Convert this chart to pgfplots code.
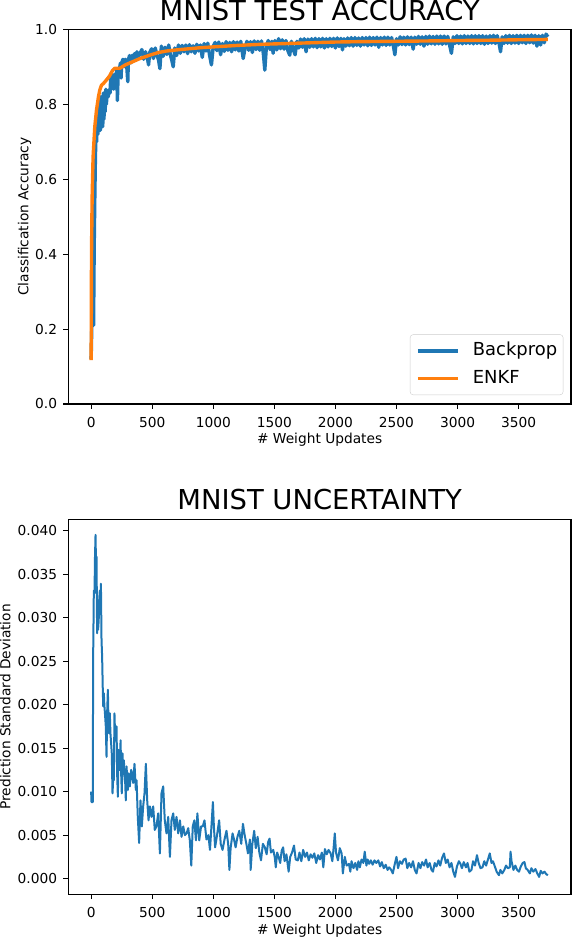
\documentclass[border=0pt]{standalone}
\usepackage{fontspec}
\setmainfont{DejaVu Sans}
\usepackage{pgfplots}
\pgfplotsset{compat=1.18}
\definecolor{tabblue}{HTML}{1F77B4}
\definecolor{taborange}{HTML}{FF7F0E}
\pgfplotsset{
  mplstyle/.style={
    scale only axis,
    width=502.7bp,
    xmin=-187, xmax=3929,
    axis line style={line width=1.1bp},
    every tick/.style={line width=1.1bp, black},
    tick align=outside,
    tick pos=left,
    major tick length=4.8bp,
    xtick={0,500,1000,1500,2000,2500,3000,3500},
    /pgf/number format/assume math mode=true,
    tick label style={font=\fontsize{13.8}{16}\selectfont},
    xticklabel style={/pgf/number format/1000 sep={}, inner sep=0pt, anchor=north, yshift=-7.9bp},
    yticklabel style={inner sep=0pt, anchor=east, xshift=-6.2bp},
    scaled y ticks=false,
    every axis title/.style={at={(axis description cs:0.5,1)}, anchor=base, font=\fontsize{27.5}{33}\selectfont},
    every axis x label/.style={at={(axis description cs:0.5,0)}, anchor=base, yshift=-38bp, font=\fontsize{13.8}{16}\selectfont},
    every axis y label/.style={rotate=90, anchor=base, font=\fontsize{13.8}{16}\selectfont},
  }
}
\begin{document}
\begin{tikzpicture}
\path[use as bounding box] (0bp,0bp) rectangle (574bp,938bp);
\begin{axis}[mplstyle,
  at={(68.3bp,534bp)}, anchor=south west,
  height=374.7bp,
  ymin=0, ymax=1,
  ytick={0,0.2,0.4,0.6,0.8,1},
  yticklabel style={/pgf/number format/.cd, fixed, fixed zerofill, precision=1},
  title={MNIST TEST ACCURACY},
  title style={yshift=8.3bp},
  xlabel={\# Weight Updates},
  xlabel style={yshift=-2bp},
  ylabel={Classification Accuracy},
  ylabel style={at={(axis description cs:-0.0796,0.5)}},
  legend style={at={(axis description cs:0.9847,0.024)}, anchor=south east,
    draw=black!20, fill=white, rounded corners=3bp,
    font=\fontsize{18}{21}\selectfont,
    inner xsep=6bp, inner ysep=7.5bp, row sep=9.4bp, column sep=13.3bp,
    nodes={inner sep=0pt, text height=13.7bp, text depth=4.2bp}},
  legend cell align=left,
  legend image code/.code={\draw[#1] (0bp,0bp) -- (40bp,0bp);},
]
\addplot[tabblue, line width=3.4bp, line join=round] table {
0 0.12
5 0.20
10 0.35
15 0.33
20 0.21
25 0.42
30 0.55
35 0.66
40 0.72
45 0.70
50 0.76
55 0.72
60 0.78
65 0.74
70 0.80
75 0.73
80 0.82
85 0.75
90 0.81
95 0.74
100 0.83
105 0.76
110 0.82
115 0.78
120 0.84
125 0.80
130 0.83
140 0.82
150 0.84
155 0.83
160 0.87
165 0.84
170 0.88
175 0.85
180 0.87
185 0.84
190 0.88
200 0.86
210 0.89
215 0.81
220 0.87
230 0.89
240 0.91
245 0.87
250 0.91
260 0.92
270 0.90
280 0.92
290 0.91
300 0.86
305 0.92
315 0.93
325 0.91
335 0.93
345 0.92
355 0.935
365 0.92
375 0.94
385 0.925
400 0.935
415 0.946
430 0.920
445 0.940
460 0.925
470 0.905
480 0.938
495 0.948
510 0.922
525 0.950
540 0.930
552 0.918
563 0.895
575 0.955
590 0.928
605 0.952
620 0.933
635 0.958
650 0.930
660 0.918
672 0.900
685 0.950
700 0.930
715 0.958
730 0.936
745 0.957
760 0.940
775 0.958
790 0.935
805 0.959
820 0.940
835 0.956
850 0.936
865 0.960
880 0.942
895 0.958
910 0.925
925 0.962
940 0.942
955 0.963
970 0.930
985 0.905
1000 0.955
1015 0.965
1030 0.943
1045 0.966
1060 0.932
1075 0.962
1090 0.941
1105 0.967
1120 0.944
1135 0.965
1150 0.940
1165 0.967
1180 0.945
1195 0.966
1210 0.942
1225 0.968
1245 0.922
1260 0.950
1275 0.968
1290 0.944
1305 0.967
1320 0.938
1335 0.969
1350 0.946
1365 0.968
1380 0.944
1395 0.969
1410 0.935
1422 0.891
1435 0.955
1450 0.970
1465 0.946
1480 0.968
1490 0.936
1505 0.970
1520 0.945
1535 0.975
1550 0.948
1565 0.972
1580 0.947
1595 0.970
1610 0.944
1626 0.931
1640 0.968
1655 0.946
1670 0.932
1685 0.968
1700 0.950
1715 0.974
1730 0.952
1745 0.975
1760 0.940
1775 0.974
1790 0.952
1805 0.975
1820 0.953
1835 0.976
1850 0.951
1865 0.975
1880 0.953
1895 0.976
1910 0.950
1925 0.975
1940 0.953
1955 0.976
1970 0.954
1985 0.976
2000 0.950
2015 0.977
2030 0.954
2045 0.976
2058 0.945
2070 0.975
2085 0.955
2100 0.977
2115 0.956
2130 0.978
2145 0.955
2160 0.978
2175 0.957
2190 0.977
2205 0.955
2220 0.978
2235 0.958
2250 0.978
2265 0.956
2280 0.979
2295 0.957
2310 0.978
2325 0.958
2340 0.979
2355 0.952
2370 0.978
2385 0.958
2400 0.979
2415 0.957
2430 0.979
2445 0.958
2460 0.978
2475 0.955
2487 0.932
2500 0.975
2515 0.958
2530 0.980
2545 0.959
2560 0.979
2575 0.958
2590 0.980
2605 0.959
2620 0.979
2637 0.947
2650 0.979
2665 0.960
2680 0.981
2695 0.960
2710 0.980
2725 0.955
2740 0.981
2755 0.960
2770 0.982
2785 0.961
2800 0.981
2815 0.960
2830 0.982
2845 0.961
2860 0.982
2875 0.960
2890 0.982
2905 0.961
2920 0.981
2935 0.958
2950 0.936
2965 0.980
2980 0.962
2995 0.983
3010 0.962
3025 0.982
3040 0.961
3055 0.983
3070 0.962
3085 0.982
3100 0.962
3115 0.983
3130 0.961
3145 0.983
3160 0.962
3175 0.983
3190 0.962
3205 0.983
3220 0.960
3235 0.982
3250 0.962
3265 0.983
3280 0.963
3295 0.984
3310 0.962
3325 0.983
3340 0.963
3352 0.940
3365 0.980
3380 0.962
3395 0.983
3410 0.963
3425 0.984
3440 0.962
3455 0.983
3470 0.963
3485 0.984
3500 0.962
3515 0.984
3530 0.964
3545 0.984
3560 0.962
3575 0.984
3590 0.964
3605 0.985
3620 0.963
3635 0.984
3650 0.955
3665 0.983
3680 0.958
3695 0.984
3710 0.964
3725 0.987
3740 0.980
};
\addlegendentry{Backprop}
\addplot[taborange, line width=3.4bp, line join=round] table {
0 0.117
3 0.40
8 0.55
16 0.66
30 0.74
44 0.785
60 0.82
71 0.838
85 0.851
100 0.855
126 0.865
150 0.875
175 0.89
194 0.896
235 0.896
280 0.905
344 0.914
400 0.922
481 0.931
550 0.938
617 0.942
700 0.945
800 0.948
900 0.951
1000 0.953
1200 0.957
1400 0.96
1600 0.962
1800 0.964
2000 0.966
2200 0.967
2500 0.968
2800 0.969
3000 0.970
3300 0.971
3500 0.972
3740 0.973
};
\addlegendentry{ENKF}
\end{axis}
\begin{axis}[mplstyle,
  at={(68.3bp,43.7bp)}, anchor=south west,
  height=375bp,
  ymin=-0.0018, ymax=0.0413,
  ytick={0,0.005,0.010,0.015,0.020,0.025,0.030,0.035,0.040},
  yticklabel style={/pgf/number format/.cd, fixed, fixed zerofill, precision=3},
  title={MNIST UNCERTAINTY},
  title style={yshift=10bp},
  xlabel={\# Weight Updates},
  xlabel style={yshift=-2bp},
  ylabel={Prediction Standard Deviation},
  ylabel style={at={(axis description cs:-0.115,0.5)}},
]
\addplot[tabblue, line width=2bp, line join=round] table {
0 0.0100
3 0.0088
14 0.0088
16 0.0251
18 0.0274
22 0.0331
28 0.0328
31 0.0366
36 0.0395
40 0.0360
44 0.0370
49 0.0282
53 0.0300
57 0.0286
62 0.0297
66 0.0320
71 0.0331
76 0.0310
80 0.0339
85 0.0274
90 0.0255
95 0.0220
99 0.0198
104 0.0213
108 0.0200
115 0.0186
120 0.0175
126 0.0140
131 0.0190
137 0.0217
142 0.0180
147 0.0167
153 0.0190
158 0.0167
164 0.0155
169 0.0144
175 0.0098
180 0.0113
186 0.0113
191 0.0190
197 0.0159
202 0.0159
208 0.0175
213 0.0120
219 0.0094
224 0.0148
230 0.0125
235 0.0125
241 0.0159
246 0.0120
251 0.0098
257 0.0144
262 0.0120
268 0.0136
273 0.0121
279 0.0110
284 0.0090
290 0.0129
295 0.0115
301 0.0102
306 0.0121
312 0.0110
317 0.0106
322 0.0117
328 0.0125
333 0.0121
344 0.0110
355 0.0132
366 0.0102
372 0.0113
382 0.0071
393 0.0041
404 0.0090
415 0.0060
426 0.0083
437 0.0098
448 0.0132
459 0.0090
470 0.0067
481 0.0083
494 0.0071
508 0.0083
521 0.0056
535 0.0060
549 0.0075
563 0.0029
576 0.0098
590 0.0106
603 0.0067
617 0.0052
631 0.0071
645 0.0025
658 0.0067
672 0.0075
685 0.0056
699 0.0071
713 0.0052
727 0.0067
740 0.0048
754 0.0060
768 0.0050
781 0.0052
795 0.0058
808 0.0044
820 0.0015
832 0.0060
845 0.0067
858 0.0044
870 0.0075
885 0.0044
900 0.0060
914 0.0060
928 0.0067
944 0.0045
960 0.0050
973 0.0033
985 0.0060
997 0.0088
1005 0.0060
1015 0.0036
1031 0.0050
1048 0.0067
1061 0.0040
1076 0.0033
1092 0.0045
1108 0.0055
1122 0.0040
1132 0.0010
1142 0.0035
1158 0.0052
1170 0.0045
1183 0.0036
1198 0.0048
1213 0.0055
1229 0.0040
1243 0.0063
1257 0.0050
1271 0.0040
1284 0.0029
1300 0.0045
1306 0.0010
1320 0.0040
1335 0.0055
1348 0.0035
1363 0.0048
1377 0.0030
1391 0.0021
1406 0.0040
1422 0.0036
1437 0.0028
1449 0.0042
1461 0.0046
1472 0.0030
1491 0.0033
1503 0.0025
1512 0.0013
1523 0.0030
1535 0.0025
1548 0.0018
1560 0.0032
1572 0.0036
1584 0.0020
1599 0.0028
1617 0.0008
1630 0.0025
1645 0.0030
1661 0.0038
1675 0.0022
1692 0.0021
1706 0.0030
1721 0.0020
1736 0.0033
1752 0.0025
1767 0.0030
1782 0.0021
1797 0.0028
1812 0.0024
1827 0.0029
1843 0.0018
1858 0.0027
1873 0.0022
1889 0.0030
1901 0.0013
1914 0.0034
1929 0.0028
1944 0.0033
1961 0.0029
1975 0.0020
1985 0.0035
1995 0.0052
2005 0.0030
2021 0.0021
2036 0.0035
2051 0.0029
2061 0.0006
2077 0.0025
2092 0.0015
2111 0.0017
2122 0.0008
2132 0.0020
2148 0.0012
2163 0.0018
2178 0.0010
2188 0.0020
2200 0.0013
2214 0.0022
2229 0.0018
2240 0.0031
2254 0.0015
2264 0.0022
2276 0.0017
2290 0.0021
2305 0.0016
2320 0.0021
2335 0.0018
2351 0.0021
2366 0.0014
2380 0.0019
2396 0.0012
2412 0.0016
2427 0.0010
2440 0.0013
2457 0.0010
2470 0.0006
2488 0.0018
2500 0.0025
2513 0.0012
2528 0.0020
2545 0.0017
2559 0.0022
2575 0.0023
2589 0.0012
2604 0.0018
2620 0.0013
2635 0.0020
2650 0.0010
2664 0.0006
2681 0.0018
2696 0.0012
2710 0.0019
2726 0.0015
2742 0.0022
2755 0.0013
2772 0.0018
2787 0.0010
2799 0.0008
2813 0.0018
2828 0.0014
2844 0.0021
2858 0.0015
2874 0.0024
2889 0.0029
2904 0.0018
2919 0.0022
2935 0.0013
2950 0.0018
2965 0.0008
2979 0.0002
2995 0.0014
3011 0.0020
3024 0.0017
3036 0.0012
3051 0.0019
3069 0.0013
3082 0.0018
3097 0.0008
3114 0.0010
3127 0.0020
3143 0.0015
3159 0.0027
3173 0.0018
3188 0.0012
3204 0.0013
3219 0.0020
3234 0.0015
3249 0.0022
3264 0.0029
3278 0.0018
3290 0.0020
3308 0.0013
3320 0.0008
3339 0.0004
3351 0.0010
3366 0.0006
3383 0.0010
3397 0.0015
3412 0.0012
3428 0.0013
3434 0.0031
3442 0.0020
3458 0.0010
3473 0.0015
3488 0.0010
3503 0.0008
3518 0.0014
3534 0.0018
3548 0.0019
3559 0.0012
3574 0.0010
3592 0.0006
3605 0.0012
3620 0.0008
3638 0.0011
3653 0.0006
3668 0.0002
3681 0.0009
3696 0.0006
3712 0.0008
3727 0.0005
3740 0.0004
};
\end{axis}
\end{tikzpicture}
\end{document}
